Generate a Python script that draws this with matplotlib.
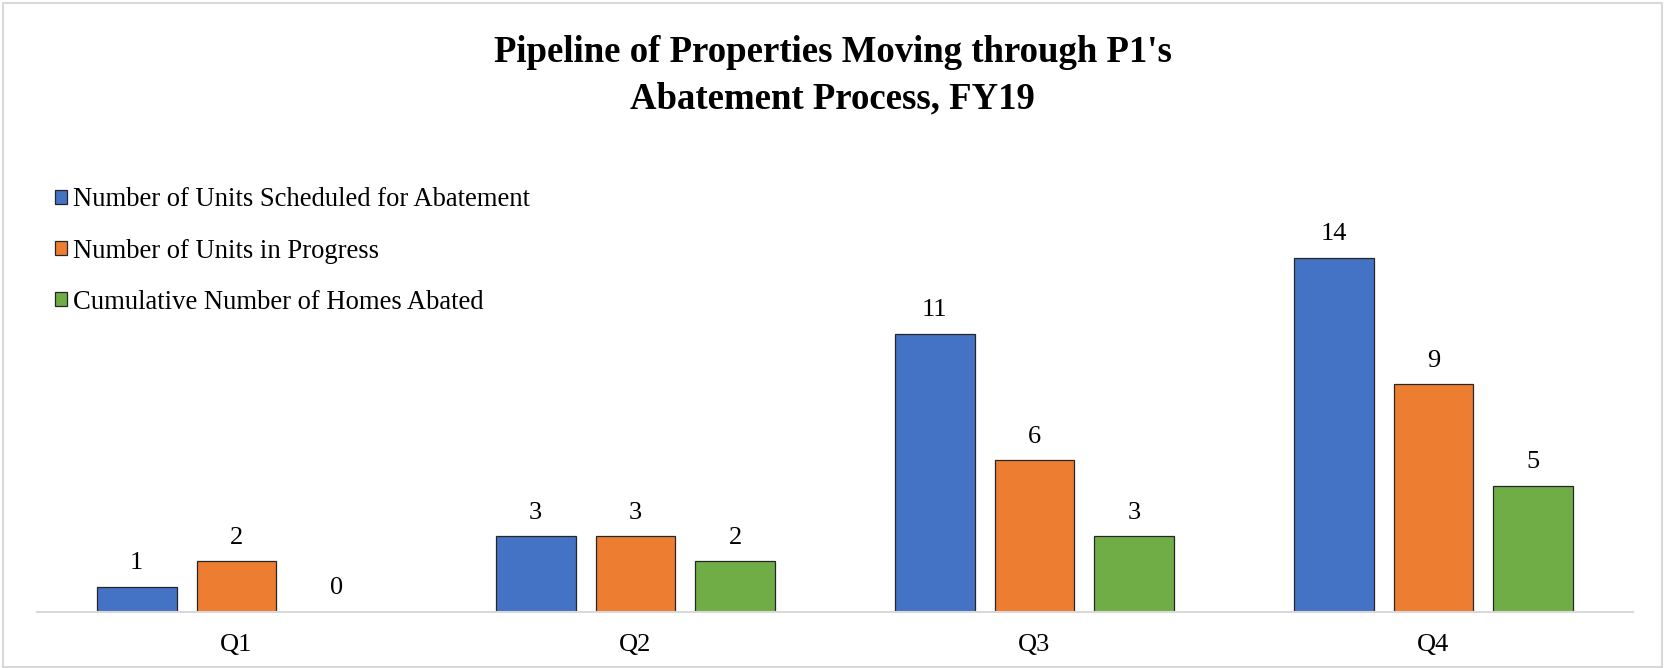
import numpy as np
import matplotlib.pyplot as plt
from matplotlib.patches import Rectangle

quarters = ['Q1', 'Q2', 'Q3', 'Q4']
scheduled = [1, 3, 11, 14]
in_progress = [2, 3, 6, 9]
abated = [0, 2, 3, 5]
series_names = ['Number of Units Scheduled for Abatement',
                'Number of Units in Progress',
                'Cumulative Number of Homes Abated']
colors = ['#4472C4', '#ED7D31', '#70AD47']

plt.rcParams['font.family'] = ['Liberation Serif', 'DejaVu Serif']

W, H = 1665, 668
fig = plt.figure(figsize=(W / 100, H / 100), dpi=100)
# axes placed in pixel terms: left 37, right 1633, bottom 612
ax = fig.add_axes([37 / W, 1 - 612 / H, (1633 - 37) / W, (612 - 150) / H])

x = np.arange(len(quarters))
offsets = [-0.25, 0, 0.25]
for vals, off, c, name in zip([scheduled, in_progress, abated], offsets, colors, series_names):
    bars = ax.bar(x + off, vals, width=0.2, color=c, edgecolor='#262626', linewidth=0.9, label=name)
    for b, v in zip(bars, vals):
        ax.annotate(str(v), (b.get_x() + b.get_width() / 2, v), xytext=(0, 9),
                    textcoords='offset points', ha='center', va='bottom', fontsize=19)

ax.set_xlim(-0.5, 3.5)
ax.set_ylim(0, 462 / 25.3)
ax.set_xticks(x)
ax.set_xticklabels(quarters, fontsize=19)
ax.tick_params(axis='x', length=0, pad=16)
ax.set_yticks([])
for s in ['top', 'right', 'left']:
    ax.spines[s].set_visible(False)
ax.spines['bottom'].set_color('#D9D9D9')
ax.spines['bottom'].set_linewidth(1.5)

fig.text(0.5, 1 - 76 / H, "Pipeline of Properties Moving through P1's\nAbatement Process, FY19",
         ha='center', va='center', fontsize=26.5, fontweight='bold', linespacing=1.43)

fig.legend(loc='center left', bbox_to_anchor=(55 / W, 1 - 251 / H), frameon=False,
           fontsize=19.2, borderpad=0, borderaxespad=0, handlelength=0.45, handleheight=0.45,
           handletextpad=0.22, labelspacing=0.98)

fig.patches.append(Rectangle((0.002, 0.002), 0.996, 0.993, transform=fig.transFigure,
                             fill=False, edgecolor='#D9D9D9', linewidth=1.5))

fig.savefig('out.png', dpi=100)
